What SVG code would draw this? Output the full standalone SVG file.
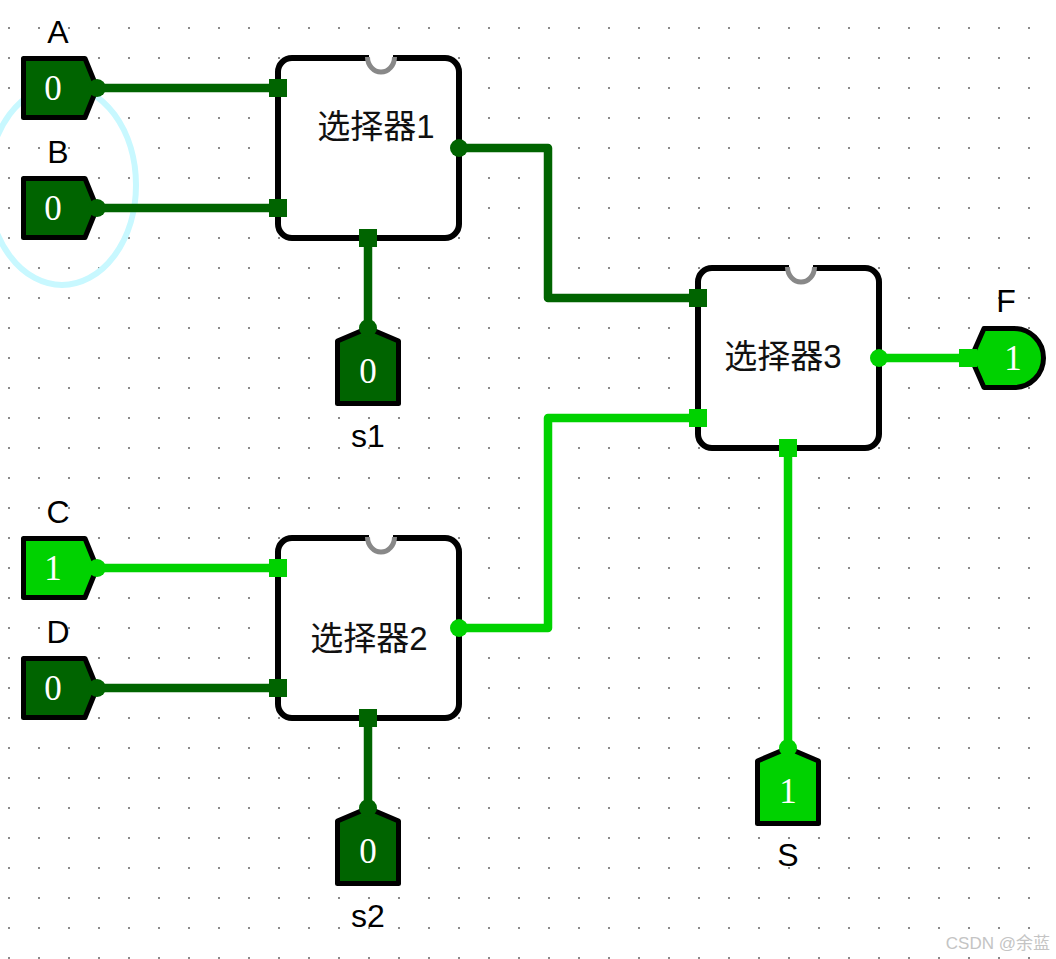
<svg xmlns="http://www.w3.org/2000/svg" xmlns:xlink="http://www.w3.org/1999/xlink" width="1056" height="959" viewBox="0 0 1056 959">
<style>
.w0{stroke:#006400;stroke-width:8.5;fill:none;stroke-linejoin:round}
.w1{stroke:#00d200;stroke-width:8.5;fill:none;stroke-linejoin:round}
.f0{fill:#006400}
.f1{fill:#00d200}
.pin{stroke:#000;stroke-width:5;stroke-linejoin:round}
.box{fill:#fff;stroke:#000;stroke-width:6}
.gap{fill:#fff}
.notch{fill:none;stroke:#888;stroke-width:5}
.val{font-family:"Liberation Serif",serif;font-size:35px;fill:#fff;text-anchor:middle}
.lbl{font-family:"Liberation Sans",Arial,sans-serif;font-size:32px;fill:#000;text-anchor:middle}
.title{font-family:"Liberation Sans","Noto Sans CJK SC",sans-serif;font-size:33px;fill:#111;text-anchor:middle}
</style>
<defs>
<pattern id="grid" x="8" y="27" width="30" height="30" patternUnits="userSpaceOnUse"><rect width="2" height="2" fill="#8a8a8a"/></pattern>
<path id="pinH" d="M-73.5,-29.5 L-12,-29.5 L0,0 L-12,29.5 L-73.5,29.5 Z"/>
<path id="pinV" d="M-30.5,13 L0,0 L30.5,13 L30.5,75.5 L-30.5,75.5 Z"/>
<rect id="port" x="-9" y="-9" width="18" height="18"/>
</defs>
<rect width="1056" height="959" fill="#fff"/>
<rect width="1056" height="959" fill="url(#grid)"/>
<ellipse id="highlight" cx="62" cy="185" rx="74" ry="100" fill="none" stroke="#c8f8ff" stroke-width="6"/>

<g id="connectors">
<path class="w0" d="M97,88 H278"/>
<path class="w0" d="M97,208 H278"/>
<path class="w0" d="M368,238 V328"/>
<path class="w0" d="M459,148 H548 V298 H698"/>
<path class="w1" d="M97,568 H278"/>
<path class="w0" d="M97,688 H278"/>
<path class="w0" d="M368,718 V808"/>
<path class="w1" d="M459,628 H548 V418 H698"/>
<path class="w1" d="M788,448 V748"/>
<path class="w1" d="M879,358 H968"/>
</g>

<g id="mux1">
<rect class="box" x="278" y="58" width="181" height="180" rx="14"/>
<rect class="gap" x="369" y="54" width="24" height="8"/>
<path class="notch" d="M367.5,57 A13.5,15 0 0 0 394.5,57"/>
<text class="title" x="376" y="138">选择器1</text>
<use href="#port" x="278" y="88" class="f0"/>
<use href="#port" x="278" y="208" class="f0"/>
<use href="#port" x="368" y="238" class="f0"/>
<circle cx="459" cy="148" r="9" class="f0"/>
</g>

<g id="mux2">
<rect class="box" x="278" y="538" width="181" height="180" rx="14"/>
<rect class="gap" x="369" y="534" width="24" height="8"/>
<path class="notch" d="M367.5,537 A13.5,15 0 0 0 394.5,537"/>
<text class="title" x="369" y="650">选择器2</text>
<use href="#port" x="278" y="568" class="f1"/>
<use href="#port" x="278" y="688" class="f0"/>
<use href="#port" x="368" y="718" class="f0"/>
<circle cx="459" cy="628" r="9" class="f1"/>
</g>

<g id="mux3">
<rect class="box" x="698" y="268" width="181" height="180" rx="14"/>
<rect class="gap" x="789" y="264" width="24" height="8"/>
<path class="notch" d="M787.5,267 A13.5,15 0 0 0 814.5,267"/>
<text class="title" x="783" y="368">选择器3</text>
<use href="#port" x="698" y="298" class="f0"/>
<use href="#port" x="698" y="418" class="f1"/>
<use href="#port" x="788" y="448" class="f1"/>
<circle cx="879" cy="358" r="9" class="f1"/>
</g>

<g id="pinA">
<use href="#pinH" x="97" y="88" class="pin f0"/>
<circle cx="97" cy="88" r="9" class="f0"/>
<text class="val" x="53" y="100">0</text>
<text class="lbl" x="58" y="43">A</text>
</g>
<g id="pinB">
<use href="#pinH" x="97" y="208" class="pin f0"/>
<circle cx="97" cy="208" r="9" class="f0"/>
<text class="val" x="53" y="220">0</text>
<text class="lbl" x="58" y="163">B</text>
</g>
<g id="pinC">
<use href="#pinH" x="97" y="568" class="pin f1"/>
<circle cx="97" cy="568" r="9" class="f1"/>
<text class="val" x="53" y="580">1</text>
<text class="lbl" x="58" y="523">C</text>
</g>
<g id="pinD">
<use href="#pinH" x="97" y="688" class="pin f0"/>
<circle cx="97" cy="688" r="9" class="f0"/>
<text class="val" x="53" y="700">0</text>
<text class="lbl" x="58" y="643">D</text>
</g>

<g id="pinS1">
<use href="#pinV" x="368" y="328" class="pin f0"/>
<circle cx="368" cy="328" r="9" class="f0"/>
<text class="val" x="368" y="383">0</text>
<text class="lbl" x="368" y="447">s1</text>
</g>
<g id="pinS2">
<use href="#pinV" x="368" y="808" class="pin f0"/>
<circle cx="368" cy="808" r="9" class="f0"/>
<text class="val" x="368" y="863">0</text>
<text class="lbl" x="368" y="927">s2</text>
</g>
<g id="pinS">
<use href="#pinV" x="788" y="748" class="pin f1"/>
<circle cx="788" cy="748" r="9" class="f1"/>
<text class="val" x="788" y="803">1</text>
<text class="lbl" x="788" y="866">S</text>
</g>

<g id="pinF">
<path class="pin f1" d="M971,358 L984,328.5 L1014,328.5 A29.5,29.5 0 0 1 1014,387.5 L984,387.5 Z"/>
<use href="#port" x="968" y="358" class="f1"/>
<text class="val" x="1013" y="370">1</text>
<text class="lbl" x="1006" y="312">F</text>
</g>

<text x="1050" y="949" text-anchor="end" font-family="Liberation Sans,'Noto Sans CJK SC',sans-serif" font-size="17" fill="#c4c4c4">CSDN @余蓝</text>
</svg>
